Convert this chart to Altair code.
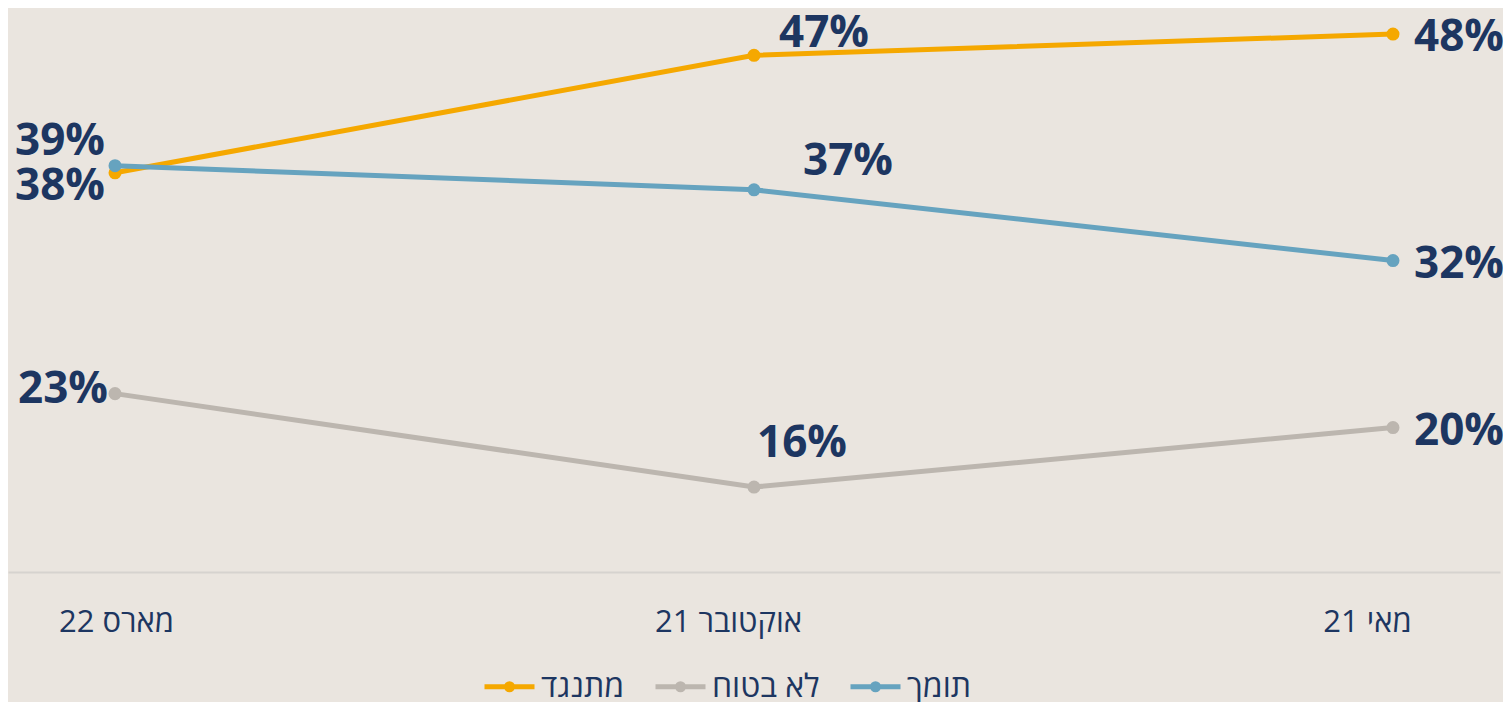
import altair as alt
import pandas as pd

periods = ["22 מארס", "21 אוקטובר", "21 מאי"]
series = ["מתנגד", "לא בטוח", "תומך"]
oppose = [38.2, 46.5, 48.0]
unsure = [22.6, 16.0, 20.2]
support = [38.7, 37.0, 32.0]
colors = ["#F5A800", "#BCB6AF", "#66A3BF"]

rows = []
for s, vals in zip(series, [oppose, unsure, support]):
    for i, (p, v) in enumerate(zip(periods, vals)):
        rows.append({"period": p, "series": s, "value": v, "idx": i})
df = pd.DataFrame(rows)

NAVY = "#1D3661"
BG = "#EAE5DF"
HFONT = "Liberation Sans Narrow, Open Sans, sans-serif"

def ring(r):
    return f"M-{r},0A{r},{r},0,1,0,{r},0A{r},{r},0,1,0,-{r},0"

x = alt.X("period:N", sort=periods, title=None,
          scale=alt.Scale(type="point", padding=0.1675),
          axis=alt.Axis(labelAngle=0, ticks=False, labelPadding=35, labelFontSize=31,
                        labelColor=NAVY, labelFont=HFONT, domainColor="#D6D3CF",
                        labelOffset={"condition": {"test": f"datum.value === '{periods[0]}'", "value": 1},
                                     "value": -26},
                        domainWidth=2, grid=False))
y = alt.Y("value:Q", title=None, scale=alt.Scale(domain=[10, 49.84], nice=False, zero=False),
          axis=None)
color = alt.Color("series:N", scale=alt.Scale(domain=series, range=colors), title=None,
                  legend=alt.Legend(
                      orient="none", legendX=474, legendY=651, direction="horizontal",
                      symbolType="M-1,0H1" + ring(0.12) + ring(0.07) + ring(0.03),
                      symbolSize=2500, symbolStrokeWidth=5, labelFontSize=32,
                      labelColor=NAVY, labelFont=HFONT, columnPadding=20,
                      labelOffset=4, padding=0))

base = alt.Chart(df).encode(x=x, y=y, color=color)
lines = base.mark_line(strokeWidth=5)
points = base.mark_point(filled=True, size=170, opacity=1)

offsets = {
    ("מתנגד", 0): (-55, 14), ("מתנגד", 1): (70, -21), ("מתנגד", 2): (66, 4),
    ("תומך", 0): (-55, -24), ("תומך", 1): (94, -28), ("תומך", 2): (66, 4),
    ("לא בטוח", 0): (-52, -4), ("לא בטוח", 1): (48, -43), ("לא בטוח", 2): (66, 4),
}
texts = []
for (s, i), (dx, dy) in offsets.items():
    t = alt.Chart(df).transform_filter(
        (alt.datum.series == s) & (alt.datum.idx == i)
    ).transform_calculate(
        lab="format(datum.value, '.0f') + '%'"
    ).mark_text(dx=dx, dy=dy, fontSize=44, fontWeight="bold", font="Open Sans",
                color=NAVY, align="center", baseline="middle").encode(
        x=alt.X("period:N", sort=periods), y="value:Q", text="lab:N")
    texts.append(t)

chart = alt.layer(lines, points, *texts).properties(
    width=1492, height=564, background=BG,
    padding={"left": 0, "top": 0, "right": 3, "bottom": 130},
    autosize=alt.AutoSizeParams(type="none"),
).configure_view(stroke=None)

chart.save("out.html", embed_options={"renderer": "svg", "actions": False})
